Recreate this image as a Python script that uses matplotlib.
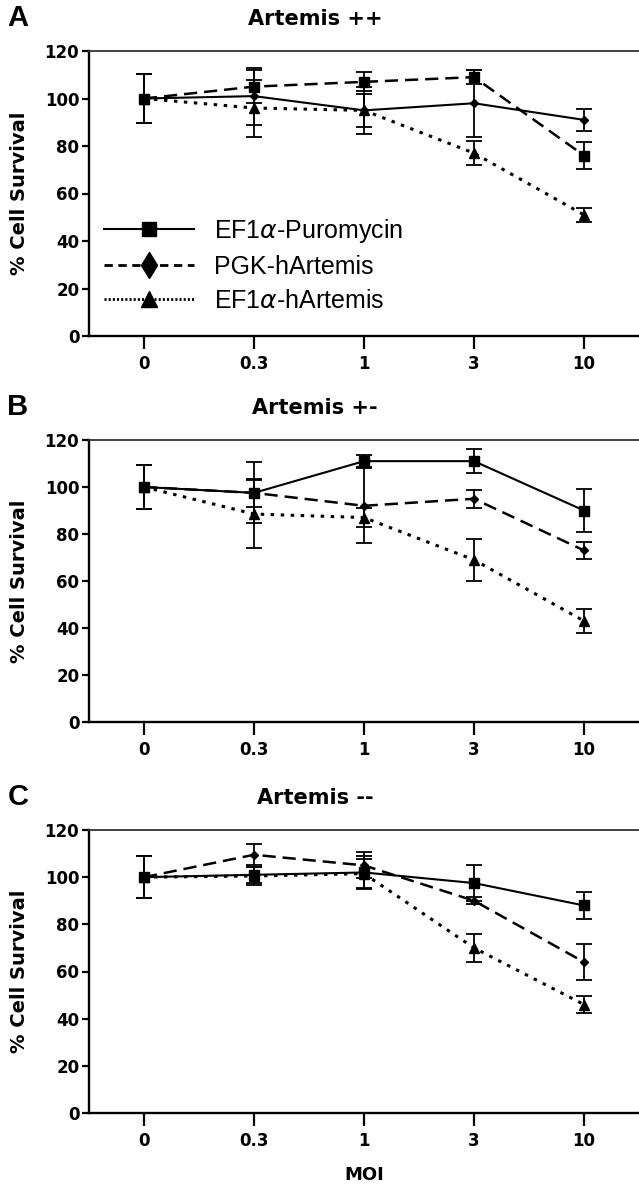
import matplotlib.pyplot as plt
import numpy as np
from matplotlib.lines import Line2D

plt.rcParams['font.family'] = ['DejaVu Sans']
plt.rcParams['lines.scale_dashes'] = False
plt.rcParams['mathtext.fontset'] = 'custom'
plt.rcParams['mathtext.it'] = 'DejaVu Sans:italic'
plt.rcParams['mathtext.rm'] = 'Liberation Sans'

moi = ['0', '0.3', '1', '3', '10']
names = [r'EF1$\alpha$-Puromycin', 'PGK-hArtemis', r'EF1$\alpha$-hArtemis']
titles = ['Artemis ++', 'Artemis +-', 'Artemis --']
letters = ['A', 'B', 'C']

# panel A (solid line drawn with diamonds, dashed with squares in the original)
a_puro = [100, 101, 95, 98, 91]
a_puro_err = [10.5, 12, 10, 14, 4.5]
a_pgk = [100, 105, 107, 109, 76]
a_pgk_err = [10.5, 7, 4, 3, 5.5]
a_hart = [100, 96, 95, 77, 51]
a_hart_err = [10.5, 12, 7, 5, 3]

# panel B
b_puro = [100, 97.5, 111, 111, 90]
b_puro_err = [9.5, 6, 2.5, 5, 9]
b_pgk = [100, 97.5, 92, 95, 73]
b_pgk_err = [9.5, 13, 16, 3.8, 3.8]
b_hart = [100, 88.5, 87, 69, 43]
b_hart_err = [9.5, 14.5, 4, 8.8, 5]

# panel C
c_puro = [100, 101, 102, 97.5, 88]
c_puro_err = [9, 3.5, 7, 7.5, 5.6]
c_pgk = [100, 109.5, 105, 90, 64]
c_pgk_err = [9, 4.5, 5.5, 1.5, 7.6]
c_hart = [100, 100.5, 101.5, 70, 46]
c_hart_err = [9, 4, 6, 6, 3.7]

panels = [
    [(a_puro, a_puro_err), (a_pgk, a_pgk_err), (a_hart, a_hart_err)],
    [(b_puro, b_puro_err), (b_pgk, b_pgk_err), (b_hart, b_hart_err)],
    [(c_puro, c_puro_err), (c_pgk, c_pgk_err), (c_hart, c_hart_err)],
]
panel_markers = [['D', 's', '^'], ['s', 'D', '^'], ['s', 'D', '^']]

styles = [
    dict(linestyle='-', linewidth=1.5),
    dict(linestyle=(0, (9.5, 5)), linewidth=1.8),
    dict(linestyle=(0, (2.5, 4.7)), linewidth=2.2),
]
msizes = {'s': 6.5, 'D': 4.5, '^': 6.5}

W, H = 639, 1184
fig = plt.figure(figsize=(6.39, 11.84), dpi=100)
bounds = [(51, 336), (440, 722), (830, 1113)]
left, right = 89, 639
x = np.arange(len(moi))

for k, (top, bottom) in enumerate(bounds):
    ax = fig.add_axes([left / W, 1 - bottom / H, (right - left) / W, (bottom - top) / H])
    for j, (vals, errs) in enumerate(panels[k]):
        m = panel_markers[k][j]
        ax.errorbar(x, vals, yerr=errs, color='black', marker=m, markersize=msizes[m],
                    capsize=5.5, elinewidth=1.3, capthick=1.3, **styles[j])
    ax.set_xlim(-0.5, 4.5)
    ax.set_ylim(0, 120)
    ax.set_yticks(range(0, 121, 20))
    ax.set_xticks(x)
    ax.set_xticklabels(moi)
    ax.tick_params(axis='x', length=9.5, width=1.6, pad=4, labelsize=12)
    ax.tick_params(axis='y', length=5, width=1.6, pad=2, labelsize=12)
    for lab in ax.get_xticklabels() + ax.get_yticklabels():
        lab.set_fontweight('bold')
    for s in ['left', 'bottom']:
        ax.spines[s].set_linewidth(1.7)
    ax.spines['top'].set_linewidth(1.3)
    ax.spines['top'].set_color('#333333')
    ax.spines['right'].set_visible(False)
    ax.set_ylabel('% Cell Survival', fontsize=14, fontweight='bold')
    ax.yaxis.set_label_coords(-0.11, 0.5)
    fig.text(315 / W, 1 - (top - 32) / H, titles[k], ha='center', va='center',
             fontsize=15, fontweight='bold')
    fig.text(18 / W, 1 - (top - 33) / H, letters[k], ha='center', va='center',
             fontsize=21, fontweight='bold', family='Liberation Sans')
    if k == 0:
        handles = [
            Line2D([], [], color='black', marker='s', markersize=10, **styles[0]),
            Line2D([], [], color='black', marker='d', markersize=13, linestyle=(0, (6, 4)), linewidth=2),
            Line2D([], [], color='black', marker='^', markersize=12, linestyle=(0, (1.5, 1.5)), linewidth=2),
        ]
        leg = ax.legend(handles, names, loc='center left', bbox_to_anchor=(0.027, 0.249),
                        frameon=False, borderpad=0, borderaxespad=0, handlelength=3.6,
                        handletextpad=0.8, labelspacing=0.4,
                        prop={'family': 'Liberation Sans', 'size': 18, 'weight': 'normal'})

fig.text(364 / W, 1 - 1175 / H, 'MOI', ha='center', va='center', fontsize=13, fontweight='bold')

fig.savefig('out.png', dpi=100)
